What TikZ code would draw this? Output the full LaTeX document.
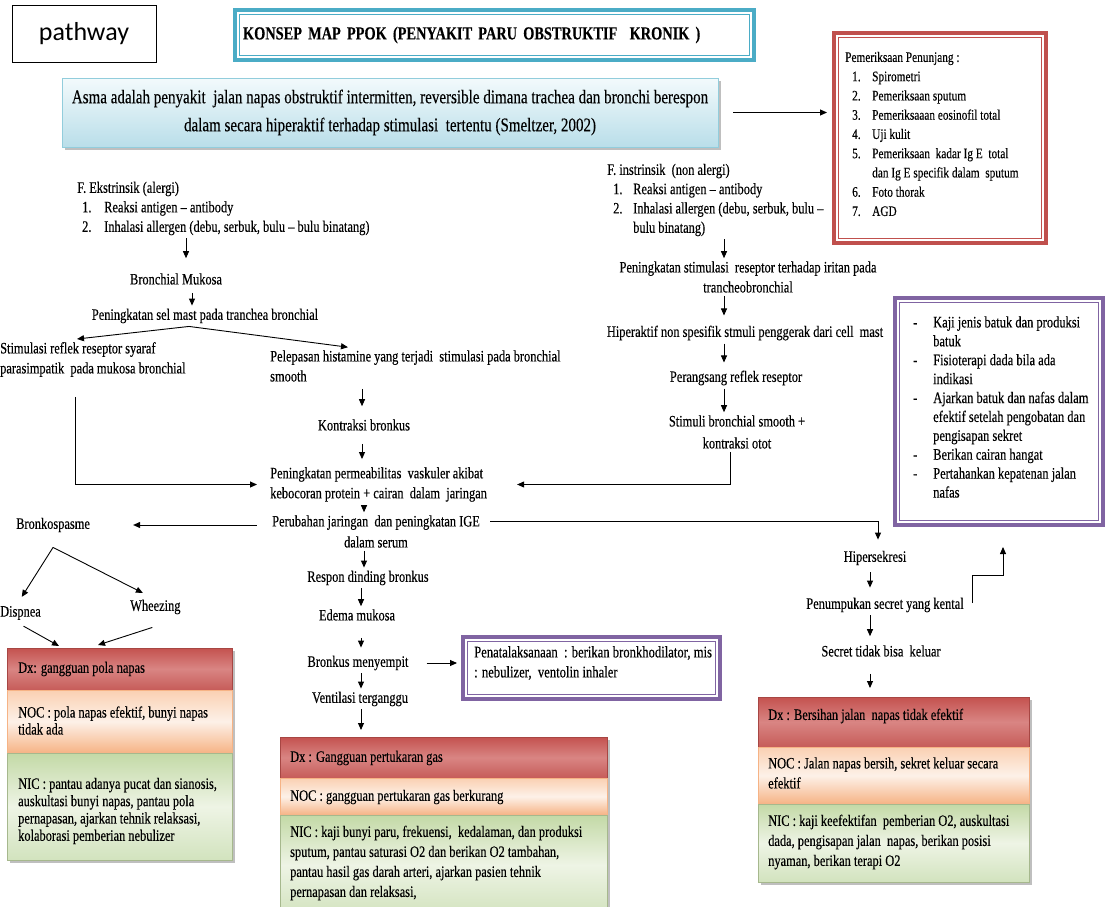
\documentclass[tikz,border=0pt]{standalone}
\usepackage{fontspec}
\setmainfont[FakeStretch=0.78,FakeBold=0.25]{Liberation Serif}
\newfontfamily\calibri{Carlito}
\usetikzlibrary{arrows.meta,calc}
\definecolor{tealB}{HTML}{4BACC6}
\definecolor{redB}{HTML}{C0504D}
\definecolor{purB}{HTML}{8064A2}
\definecolor{asmaTop}{HTML}{F3FAFC}
\definecolor{asmaBot}{HTML}{B9DEE9}
\definecolor{asmaLine}{HTML}{92CDDC}
\definecolor{hdrA}{HTML}{C4524F}
\definecolor{hdrB}{HTML}{D98583}
\definecolor{hdrC}{HTML}{C65C59}
\definecolor{nocA}{HTML}{FAD0B2}
\definecolor{nocB}{HTML}{FDF1E8}
\definecolor{nocC}{HTML}{F6B385}
\definecolor{nicA}{HTML}{C3D9A6}
\definecolor{nicB}{HTML}{EEF4E5}
\definecolor{nicC}{HTML}{D2E3BE}
\newcommand\fsz[2]{\fontsize{#1}{#2}\selectfont}
\newcommand\innerline[2]{\draw[#1, line width=0.9pt] ($(#2.north west)+(4.5,4.5)$) rectangle ($(#2.south east)+(-4.5,-4.5)$);}
\begin{document}
\begin{tikzpicture}[x=1pt,y=-1pt,
  tx/.style={inner xsep=0pt, inner ysep=3pt, font=\fsz{15.9}{20}},
  arr/.style={line width=0.9pt, -{Triangle[length=7pt,width=6pt]}},
  ln/.style={line width=0.9pt},
  dbl/.style={line width=3.5pt, outer sep=0pt, inner sep=0pt, anchor=north west, fill=white},
  dxbox/.style={line width=0.5pt, outer sep=0pt, inner sep=0pt, anchor=north west},
  dxH/.style={dxbox, draw=hdrA!85!black, top color=hdrA, bottom color=hdrC, middle color=hdrB},
  dxO/.style={dxbox, draw=nocC, top color=nocA, bottom color=nocC, middle color=nocB},
  dxI/.style={dxbox, draw=nicA!85!black, top color=nicA, bottom color=nicC, middle color=nicB},
  dxt/.style={tx, anchor=west, align=left}]
\useasboundingbox (0,0) rectangle (1108,907);
\fill[white] (0,0) rectangle (1108,907);

% columns
\coordinate (colA) at (186,0);
\coordinate (colB) at (192,0);
\coordinate (colC) at (189,0);
\coordinate (colD) at (77,0);
\coordinate (colE) at (348,0);
\coordinate (colF) at (75,0);
\coordinate (colG) at (362,0);
\coordinate (colH) at (730,0);
\coordinate (colI) at (364,0);
\coordinate (colK) at (361,0);
\coordinate (colR) at (724,0);
\coordinate (colS) at (870,0);
\coordinate (colT) at (878,0);
\coordinate (colV) at (1003,0);
\coordinate (colX) at (18,0);
\coordinate (colY) at (150,0);

% header boxes
\node[draw, line width=0.9pt, outer sep=0pt, anchor=north west, minimum width=144, minimum height=57,
      font=\calibri\fontsize{26}{30}\selectfont] (pw) at (12,5) {pathway};
\node[dbl, draw=tealB, minimum height=50, inner xsep=8pt, text width=503pt, align=left,
      font=\bfseries\fsz{18.4}{22}] (title) at (235,10) {KONSEP MAP PPOK (PENYAKIT PARU OBSTRUKTIF~ KRONIK )};
\innerline{tealB}{title}

\fill[black!25] (65,81) rectangle (721,150);
\node[draw=asmaLine, line width=0.6pt, top color=asmaTop, bottom color=asmaBot, outer sep=0pt, inner sep=0pt,
      anchor=north west, minimum width=656, minimum height=69, align=center, font=\fsz{19.3}{28}] (asma) at (62,78)
  {Asma adalah penyakit~ jalan napas obstruktif intermitten, reversible dimana trachea dan bronchi berespon\\
   dalam secara hiperaktif terhadap stimulasi~ tertentu (Smeltzer, 2002)};

% pemeriksaan
\node[dbl, draw=redB, minimum width=212, minimum height=210] (pem) at (834,33) {};
\innerline{redB}{pem}
\node[tx, anchor=west, align=left, font=\fsz{14.5}{19.25}] (pemT) at (845,134) {Pemeriksaan Penunjang :\\
 \hspace*{7pt}\makebox[20pt][l]{1.}Spirometri\\
 \hspace*{7pt}\makebox[20pt][l]{2.}Pemeriksaan sputum\\
 \hspace*{7pt}\makebox[20pt][l]{3.}Pemeriksaaan eosinofil total\\
 \hspace*{7pt}\makebox[20pt][l]{4.}Uji kulit\\
 \hspace*{7pt}\makebox[20pt][l]{5.}Pemeriksaan~ kadar Ig E~ total\\
 \hspace*{27pt}dan Ig E specifik dalam~ sputum\\
 \hspace*{7pt}\makebox[20pt][l]{6.}Foto thorak\\
 \hspace*{7pt}\makebox[20pt][l]{7.}AGD};

% purple right
\node[dbl, draw=purB, minimum width=208, minimum height=227] (pur) at (895,298) {};
\innerline{purB}{pur}
\node[tx, anchor=west, align=left, font=\fsz{16}{18.9}] (purT) at (913,407) {%
 \makebox[20pt][l]{-}Kaji jenis batuk dan produksi\\
 \hspace*{20pt}batuk\\
 \makebox[20pt][l]{-}Fisioterapi dada bila ada\\
 \hspace*{20pt}indikasi\\
 \makebox[20pt][l]{-}Ajarkan batuk dan nafas dalam\\
 \hspace*{20pt}efektif setelah pengobatan dan\\
 \hspace*{20pt}pengisapan sekret\\
 \makebox[20pt][l]{-}Berikan cairan hangat\\
 \makebox[20pt][l]{-}Pertahankan kepatenan jalan\\
 \hspace*{20pt}nafas};

% penatalaksanaan
\node[dbl, draw=purB, minimum width=257, minimum height=62] (pen) at (463,637) {};
\innerline{purB}{pen}
\node[tx, anchor=west, align=left, font=\fsz{16.2}{20}] (penT) at (474,663)
  {Penatalaksanaan~ : berikan bronkhodilator, mis\\: nebulizer,~ ventolin inhaler};

% left flow
\node[tx, anchor=west, align=left, font=\fsz{15.9}{19.5}] (ext) at (77,208.5) {F. Ekstrinsik (alergi)\\
 \hspace*{5pt}\makebox[22pt][l]{1.}Reaksi antigen – antibody\\
 \hspace*{5pt}\makebox[22pt][l]{2.}Inhalasi allergen (debu, serbuk, bulu – bulu binatang)};
\node[tx] (bm) at (176,279) {Bronchial Mukosa};
\node[tx] (sm) at (205,316) {Peningkatan sel mast pada tranchea bronchial};
\node[tx, anchor=west, align=left] (srr) at (0,359.5) {Stimulasi reflek reseptor syaraf\\parasimpatik~ pada mukosa bronchial};
\node[tx, anchor=west, align=left] (pel) at (270,366) {Pelepasan histamine yang terjadi~ stimulasi pada bronchial\\smooth};
\node[tx] (kb) at (364,425) {Kontraksi bronkus};
\node[tx, anchor=west, align=left] (pp) at (270,484.5) {Peningkatan permeabilitas~ vaskuler akibat\\kebocoran protein + cairan~ dalam~ jaringan};
\node[tx, align=center, font=\fsz{15.9}{21}] (pj) at (376,531.5) {Perubahan jaringan~ dan peningkatan IGE\\dalam serum};
\node[tx, anchor=west] (bs) at (16,525) {Bronkospasme};
\node[tx, anchor=west] (dis) at (0,613) {Dispnea};
\node[tx, anchor=west] (wh) at (130,607) {Wheezing};
\node[tx] (rdb) at (368,578) {Respon dinding bronkus};
\node[tx] (edm) at (357,615) {Edema mukosa};
\node[tx] (bmn) at (358,663) {Bronkus menyempit};
\node[tx] (vt) at (360,699) {Ventilasi terganggu};

% right flow
\node[tx, anchor=west, align=left, font=\fsz{15.9}{19.3}] (ins) at (607,200) {F. instrinsik~ (non alergi)\\
 \hspace*{6pt}\makebox[20pt][l]{1.}Reaksi antigen – antibody\\
 \hspace*{6pt}\makebox[20pt][l]{2.}Inhalasi allergen (debu, serbuk, bulu –\\
 \hspace*{26pt}bulu binatang)};
\node[tx, align=center] (pst) at (748,277) {Peningkatan stimulasi~ reseptor terhadap iritan pada\\trancheobronchial};
\node[tx] (hip) at (745,333) {Hiperaktif non spesifik stmuli penggerak dari cell~ mast};
\node[tx] (prr) at (736,378) {Perangsang reflek reseptor};
\node[tx, align=center, font=\fsz{15.9}{22}] (sbs) at (737,432) {Stimuli bronchial smooth +\\kontraksi otot};
\node[tx] (hs) at (875,558) {Hipersekresi};
\node[tx] (psk) at (885,605) {Penumpukan secret yang kental};
\node[tx] (stb) at (881,651) {Secret tidak bisa~ keluar};

% Dx boxes
\fill[black!25] (10,651) rectangle (235,863);
\node[dxH, minimum width=225, minimum height=42] (d1h) at (7,648) {};
\node[dxO, minimum width=225, minimum height=63] (d1o) at (7,690) {};
\node[dxI, minimum width=225, minimum height=107] (d1i) at (7,753) {};
\node[dxt] (d1hT) at (18,669) {Dx: gangguan pola napas};
\node[dxt, font=\fsz{15.9}{17}] (d1oT) at (18,720.5) {NOC : pola napas efektif, bunyi napas\\tidak ada};
\node[dxt, font=\fsz{15.9}{17.3}] (d1iT) at (18,811) {NIC : pantau adanya pucat dan sianosis,\\auskultasi bunyi napas, pantau pola\\pernapasan, ajarkan tehnik relaksasi,\\kolaborasi pemberian nebulizer};

\fill[black!25] (283,740) rectangle (610,915);
\node[dxH, minimum width=327, minimum height=41] (d2h) at (280,737) {};
\node[dxO, minimum width=327, minimum height=37] (d2o) at (280,778) {};
\node[dxI, minimum width=327, minimum height=100] (d2i) at (280,815) {};
\node[dxt] (d2hT) at (290,758) {Dx : Gangguan pertukaran gas};
\node[dxt] (d2oT) at (290,797) {NOC : gangguan pertukaran gas berkurang};
\node[dxt] (d2iT) at (290,863) {NIC : kaji bunyi paru, frekuensi,~ kedalaman, dan produksi\\sputum, pantau saturasi O2 dan berikan O2 tambahan,\\pantau hasil gas darah arteri, ajarkan pasien tehnik\\pernapasan dan relaksasi,};

\fill[black!25] (761,700) rectangle (1032,885);
\node[dxH, minimum width=271, minimum height=50] (d3h) at (758,697) {};
\node[dxO, minimum width=271, minimum height=57] (d3o) at (758,747) {};
\node[dxI, minimum width=271, minimum height=78] (d3i) at (758,804) {};
\node[dxt] (d3hT) at (768,716) {Dx : Bersihan jalan~ napas tidak efektif};
\node[dxt] (d3oT) at (768,773) {NOC : Jalan napas bersih, sekret keluar secara\\efektif};
\node[dxt] (d3iT) at (768,842) {NIC : kaji keefektifan~ pemberian O2, auskultasi\\dada, pengisapan jalan~ napas, berikan posisi\\nyaman, berikan terapi O2};

% connectors
\draw[arr, shorten <=15pt, shorten >=7pt] (asma.east) -- (asma.east -| pem.west);
\draw[arr, shorten >=12pt] (ext.south -| colA) -- (bm.north -| colA);
\draw[arr, shorten <=5pt] (bm.south -| colB) -- (sm.north -| colB);
\draw[arr] (sm.south -| colC) -- (srr.north -| colD);
\draw[arr] (sm.south -| colC) -- (pel.north -| colE);
\draw[arr, shorten <=17pt] (srr.south -| colF) |- ($(pp.west)+(-13,0)$);
\draw[arr, shorten <=4pt, shorten >=10pt] (pel.south -| colG) -- (kb.north -| colG);
\draw[arr, shorten <=10pt, shorten >=5pt] (kb.south -| colG) -- (pp.north -| colG);
\draw[arr] (sbs.south -| colH) |- ($(pp.east)+(30,0)$);
\draw[arr] (pp.south -| colI) -- (pj.north -| colI);
\draw[arr, shorten <=15pt, shorten >=43pt] (pj.west |- bs.east) -- (bs.east);
\coordinate (bsA) at ($(bs.south)+(0,12)$);
\draw[arr, shorten >=7pt] (bsA) -- (dis.north -| colX);
\draw[arr, shorten >=8pt] (bsA) -- (wh.north -| colY);
\draw[arr] ($(dis.south)+(3,3)$) -- ($(d1h.north west)+(52,-2)$);
\draw[arr] ($(wh.south)+(-3,10)$) -- ($(d1h.north west)+(91,-3)$);
\draw[arr] (pj.south -| colI) -- (rdb.north -| colI);
\draw[arr] (rdb.south -| colK) -- (edm.north -| colK);
\draw[arr, shorten <=14pt, shorten >=5pt] (edm.south -| colK) -- (bmn.north -| colK);
\draw[arr] (bmn.south -| colK) -- (vt.north -| colK);
\draw[arr, shorten >=7pt] (vt.south -| colK) -- (d2h.north -| colK);
\draw[arr, shorten <=18pt, shorten >=6pt] (bmn.east) -- (bmn.east -| pen.west);
% right chain
\draw[arr] (ins.south -| colR) -- (pst.north -| colR);
\draw[arr, shorten >=7pt] (pst.south -| colR) -- (hip.north -| colR);
\draw[arr, shorten >=5pt] (hip.south -| colR) -- (prr.north -| colR);
\draw[arr] (prr.south -| colR) -- (sbs.north -| colR);
\draw[arr, shorten >=8pt] ($(pj.east)+(10,-10)$) -| (hs.north -| colT);
\draw[arr, shorten <=4pt, shorten >=7pt] (hs.south -| colS) -- (psk.north -| colS);
\draw[arr, shorten >=6pt] (psk.south -| colS) -- (stb.north -| colS);
\draw[arr, shorten <=14pt, shorten >=9pt] (stb.south -| colS) -- (d3h.north -| colS);
\draw[arr] ($(psk.east)+(9,-2)$) |- ($(pur.south -| colV)+(0,50)$) -- ($(pur.south -| colV)+(0,22)$);
\end{tikzpicture}
\end{document}
